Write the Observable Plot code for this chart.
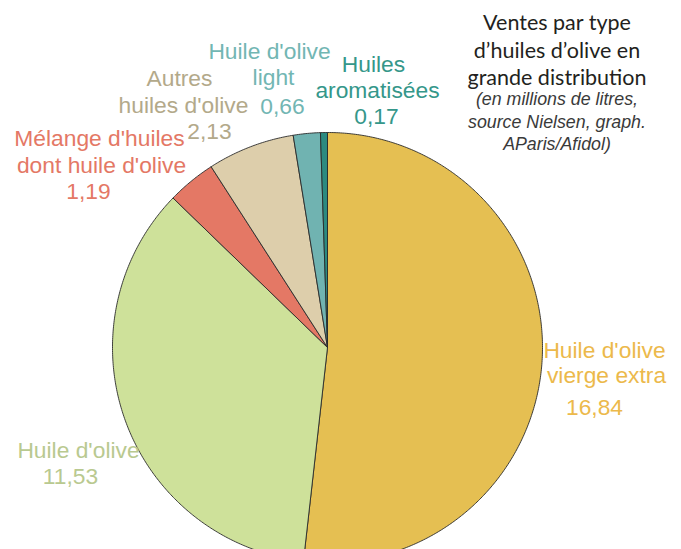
<!DOCTYPE html>
<html>
<head>
<meta charset="utf-8">
<script src="https://cdn.jsdelivr.net/npm/d3@7"></script>
<script src="https://cdn.jsdelivr.net/npm/@observablehq/plot@0.6"></script>
<style>
  html, body { margin: 0; padding: 0; background: #fff; overflow: hidden; }
  #wrap { position: relative; width: 681px; height: 549px; }
  #wrap svg { overflow: hidden; display: block; }
  .t { position: absolute; left: 440px; width: 234px; text-align: center; white-space: nowrap; }
  .title { font-family: Lato, "Open Sans", sans-serif; font-size: 21.5px; line-height: 22px; color: #231f20; }
  .sub { font-family: "Liberation Sans", Arial, sans-serif; font-style: italic; font-size: 17.8px; line-height: 18px; color: #3a3a3a; }
</style>
</head>
<body>
<div id="wrap"></div>
<script>
// ---- data ----
const categories = ["Huile d'olive vierge extra", "Huile d'olive", "Mélange d'huiles dont huile d'olive", "Autres huiles d'olive", "Huile d'olive light", "Huiles aromatisées"];
const values = [16.84, 11.53, 1.19, 2.13, 0.66, 0.17];
const nameLines = [["Huile d'olive", "vierge extra"], ["Huile d'olive"], ["Mélange d'huiles", "dont huile d'olive"], ["Autres", "huiles d'olive"], ["Huile d'olive", "light"], ["Huiles", "aromatisées"]];
const titleLines = ["Ventes par type", "d\u2019huiles d\u2019olive en", "grande distribution"];
const subtitleLines = ["(en millions de litres,", "source Nielsen, graph.", "AParis/Afidol)"];

// ---- styles / layout ----
const sliceColors = ["#E5BF52", "#CEE19A", "#E47865", "#DDCEAB", "#70B3B1", "#2C8A80"];
const labelColors = ["#ECB94B", "#B9C990", "#E47865", "#B3A98A", "#72B6B3", "#35978A"];
// label line anchors in pixels: [centerX, baseline]
const labelLayout = [
  {lines: [[604, 357], [606, 382]], value: [594, 414]},
  {lines: [[78, 457]], value: [70, 483]},
  {lines: [[99, 145], [101, 172]], value: [88, 198]},
  {lines: [[179, 85], [183, 112]], value: [209, 138]},
  {lines: [[269, 58], [273, 84]], value: [282, 113]},
  {lines: [[373, 71], [377, 97]], value: [376, 123]}
];
const W = 681, H = 549, CX = 327, CY = 347, R = 215;
const px2x = px => (px - CX) / R;
const px2y = py => (CY - py) / R;

// ---- build slice polygons from values ----
const total = d3.sum(values);
const pts = [];
let a0 = 0;
categories.forEach((c, i) => {
  const a1 = a0 + values[i] / total * 2 * Math.PI;
  pts.push({cat: c, x: 0, y: 0});
  const n = Math.max(2, Math.ceil((a1 - a0) / (Math.PI / 360)));
  for (let k = 0; k <= n; k++) {
    const a = a0 + (a1 - a0) * k / n;
    pts.push({cat: c, x: Math.sin(a), y: Math.cos(a)});
  }
  pts.push({cat: c, x: 0, y: 0});
  a0 = a1;
});

// ---- labels ----
const fmt = v => String(v).replace(".", ",");
const labels = [];
categories.forEach((c, i) => {
  nameLines[i].forEach((t, j) => {
    const [lx, ly] = labelLayout[i].lines[j];
    labels.push({cat: c, text: t, x: px2x(lx), y: px2y(ly)});
  });
  const [vx, vy] = labelLayout[i].value;
  labels.push({cat: c, text: fmt(values[i]), x: px2x(vx), y: px2y(vy)});
});
const labelColor = new Map(categories.map((c, i) => [c, labelColors[i]]));

const chart = Plot.plot({
  width: W,
  height: H,
  margin: 0,
  x: {domain: [-1, 1], range: [CX - R, CX + R], axis: null},
  y: {domain: [-1, 1], range: [CY + R, CY - R], axis: null},
  color: {domain: categories, range: sliceColors},
  style: {background: "#fff", overflow: "hidden"},
  marks: [
    Plot.line(pts, {x: "x", y: "y", z: "cat", fill: "cat", stroke: "#2a2a2a", strokeWidth: 0.9, curve: "linear"}),
    Plot.text(labels, {
      x: "x", y: "y", text: "text",
      fill: d => labelColor.get(d.cat),
      lineAnchor: "bottom", textAnchor: "middle",
      fontSize: 22.8, fontFamily: "Liberation Sans, Arial, sans-serif"
    })
  ]
});

const wrap = document.getElementById("wrap");
wrap.appendChild(chart);

const titleBase = [30, 58, 85];
titleLines.forEach((t, i) => {
  const d = document.createElement("div");
  d.className = "t title";
  d.textContent = t;
  d.style.top = (titleBase[i] - 19.3) + "px";
  wrap.appendChild(d);
});
const subBase = [105, 128, 150];
subtitleLines.forEach((t, i) => {
  const d = document.createElement("div");
  d.className = "t sub";
  d.textContent = t;
  d.style.top = (subBase[i] - 15.2) + "px";
  wrap.appendChild(d);
});
</script>
</body>
</html>
